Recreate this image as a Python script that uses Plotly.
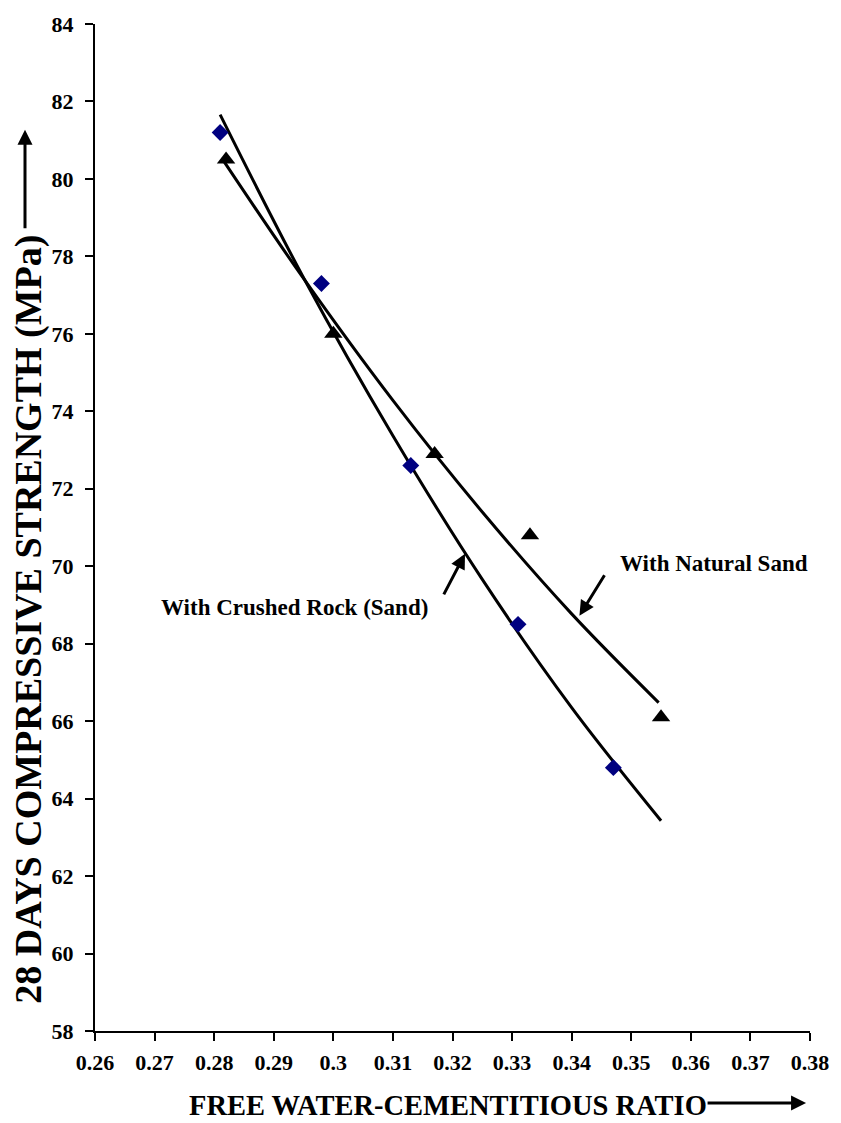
import plotly.graph_objects as go

# ---- data ----
x_crushed = [0.281, 0.298, 0.313, 0.331, 0.347]
y_crushed = [81.2, 77.3, 72.6, 68.5, 64.8]
x_natural = [0.282, 0.300, 0.317, 0.333, 0.355]
y_natural = [80.5, 76.0, 72.9, 70.8, 66.1]

# trend curves as traced on the picture
trend_crushed_x = [0.281, 0.295, 0.310, 0.325, 0.340, 0.355]
trend_crushed_y = [81.66, 77.45, 73.37, 69.66, 66.35, 63.43]
trend_natural_x = [0.2813, 0.295, 0.310, 0.325, 0.340, 0.3546]
trend_natural_y = [80.53, 77.43, 74.28, 71.40, 68.77, 66.48]

x_ticks = [0.26, 0.27, 0.28, 0.29, 0.30, 0.31, 0.32, 0.33, 0.34, 0.35, 0.36, 0.37, 0.38]
x_tick_labels = ["0.26", "0.27", "0.28", "0.29", "0.3", "0.31", "0.32", "0.33",
                 "0.34", "0.35", "0.36", "0.37", "0.38"]
y_ticks = [58, 60, 62, 64, 66, 68, 70, 72, 74, 76, 78, 80, 82, 84]

FONT = "Liberation Serif"

fig = go.Figure()
for tx, ty in ((trend_crushed_x, trend_crushed_y), (trend_natural_x, trend_natural_y)):
    fig.add_trace(go.Scatter(x=tx, y=ty, mode="lines",
                             line=dict(color="black", width=3, shape="spline", smoothing=1),
                             showlegend=False, hoverinfo="skip"))
fig.add_trace(go.Scatter(x=x_crushed, y=y_crushed, mode="markers", name="With Crushed Rock (Sand)",
                         marker=dict(symbol="diamond", color="#000080", size=13),
                         showlegend=False))
fig.add_trace(go.Scatter(x=x_natural, y=y_natural, mode="markers", name="With Natural Sand",
                         marker=dict(symbol="triangle-up", color="black", size=16),
                         showlegend=False))

fig.update_layout(
    width=841, height=1123,
    margin=dict(l=95, r=21, t=22, b=92),
    paper_bgcolor="white", plot_bgcolor="white",
    xaxis=dict(range=[0.26, 0.38], tickvals=x_ticks, ticktext=x_tick_labels,
               showgrid=False, zeroline=False, showline=True, linecolor="black", linewidth=2,
               ticks="outside", ticklen=8, tickwidth=1.5, tickcolor="black",
               tickfont=dict(family=FONT, size=22, color="black", weight="bold"),
               ticklabelstandoff=3),
    yaxis=dict(range=[58, 84], tickvals=y_ticks,
               showgrid=False, zeroline=False, showline=True, linecolor="black", linewidth=2,
               ticks="outside", ticklen=8, tickwidth=1.5, tickcolor="black",
               tickfont=dict(family=FONT, size=22, color="black", weight="bold"),
               ticklabelstandoff=7),
    showlegend=False,
)

ann_font = dict(family=FONT, size=23, color="black", weight="bold")

# series labels with arrows
fig.add_annotation(x=0.3221, y=70.32, xref="x", yref="y", ax=-22, ay=42, text="",
                   showarrow=True, arrowhead=2, arrowsize=1, arrowwidth=3, arrowcolor="black")
fig.add_annotation(x=0.2934, y=68.93, xref="x", yref="y", text="With Crushed Rock (Sand)",
                   xanchor="center", yanchor="middle", showarrow=False, font=ann_font)
fig.add_annotation(x=0.3413, y=68.72, xref="x", yref="y", ax=26, ay=-42, text="",
                   showarrow=True, arrowhead=2, arrowsize=1, arrowwidth=3, arrowcolor="black")
fig.add_annotation(x=0.3639, y=70.06, xref="x", yref="y", text="With Natural Sand",
                   xanchor="center", yanchor="middle", showarrow=False, font=ann_font)

# axis titles with arrows
fig.add_annotation(x=-0.0924, y=0.4093, xref="paper", yref="paper", textangle=-90,
                   xanchor="center", yanchor="middle",
                   text="28 DAYS COMPRESSIVE STRENGTH (MPa)", showarrow=False,
                   font=dict(family=FONT, size=38, color="black", weight="bold"))
fig.add_annotation(x=-0.0979, y=0.8949, xref="paper", yref="paper", ax=0, ay=100, text="",
                   showarrow=True, arrowhead=2, arrowsize=1, arrowwidth=3, arrowcolor="black")
fig.add_annotation(x=0.4938, y=-0.0743, xref="paper", yref="paper",
                   xanchor="center", yanchor="middle",
                   text="FREE WATER-CEMENTITIOUS RATIO", showarrow=False,
                   font=dict(family=FONT, size=28.5, color="black", weight="bold"))
fig.add_annotation(x=0.9945, y=-0.0714, xref="paper", yref="paper", ax=-100, ay=0, text="",
                   showarrow=True, arrowhead=2, arrowsize=1, arrowwidth=3, arrowcolor="black")

fig.write_html("out.html", config={"displayModeBar": False},
               post_script="document.body.style.margin='0';document.body.style.padding='0';")
